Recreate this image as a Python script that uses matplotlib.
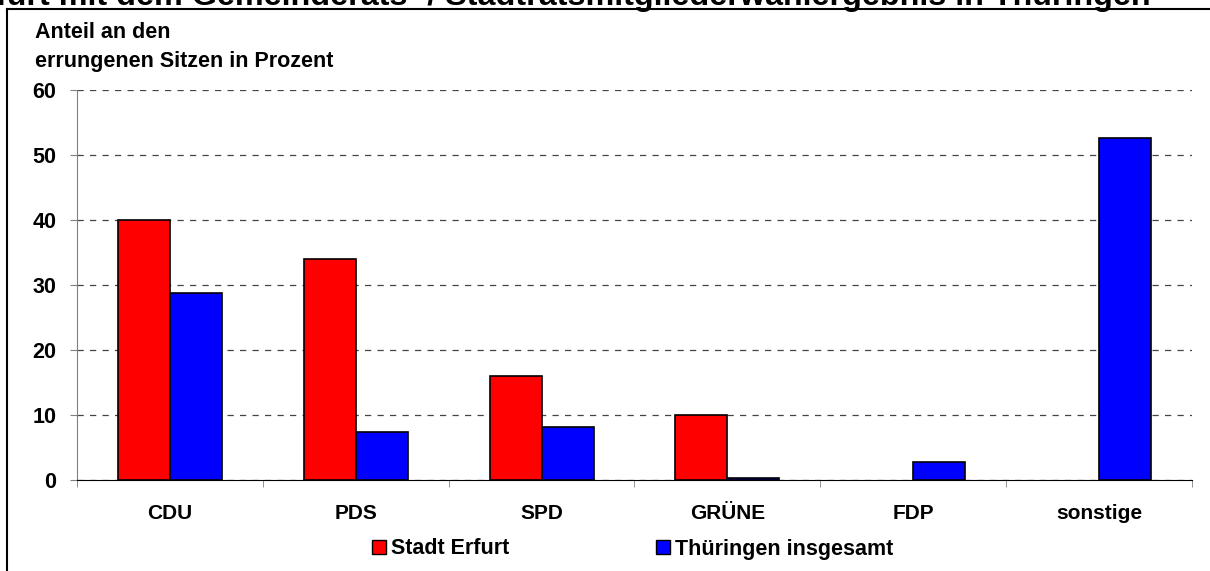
import numpy as np
import matplotlib.pyplot as plt
from matplotlib.lines import Line2D
from matplotlib.patches import Patch

# Sitzverteilung in Prozent
parteien = ["CDU", "PDS", "SPD", "GRÜNE", "FDP", "sonstige"]
erfurt = [40.0, 34.0, 16.0, 10.0, 0.0, 0.0]
thueringen = [28.7, 7.4, 8.2, 0.3, 2.8, 52.6]
serien = ["Stadt Erfurt", "Thüringen insgesamt"]
yticks = [0, 10, 20, 30, 40, 50, 60]

plt.rcParams['font.family'] = ['Liberation Sans', 'DejaVu Sans']
plt.rcParams['font.weight'] = 'bold'

W, H = 1210, 571
fig = plt.figure(figsize=(W / 100, H / 100), dpi=100)

# Titel ist im Original oben abgeschnitten
fig.text(-0.003, 1 - 5 / H, "furt mit dem Gemeinderats- / Stadtratsmitgliederwahlergebnis in Thüringen",
         fontsize=23.2, fontweight='bold', va='baseline', ha='left')
fig.add_artist(Line2D([7 / W, 1.0], [1 - 9 / H, 1 - 9 / H], color='black', lw=1.5))
fig.add_artist(Line2D([7 / W, 7 / W], [1 - 9 / H, 0.0], color='black', lw=1.5))

ax = fig.add_axes([77 / W, 1 - 480 / H, (1192 - 77) / W, (480 - 90) / H])
x = np.arange(len(parteien))
bw = 0.28
ax.bar(x - bw / 2, erfurt, bw, color='#ff0000', edgecolor='black',
       linewidth=[1.2 if v > 0 else 0 for v in erfurt], zorder=3)
ax.bar(x + bw / 2, thueringen, bw, color='#0000ff', edgecolor='black',
       linewidth=[1.2 if v > 0 else 0 for v in thueringen], zorder=3)

ax.set_xlim(-0.5, len(parteien) - 0.5)
ax.set_ylim(0, 60)
ax.set_yticks(yticks)
ax.set_xticks(x)
ax.set_xticklabels(parteien, fontsize=15, fontweight='bold')
ax.tick_params(axis='x', length=0, pad=17)
ax.set_xticks(np.arange(len(parteien) + 1) - 0.5, minor=True)
ax.tick_params(axis='x', which='minor', length=5, color='#808080', direction='out')
ax.tick_params(axis='y', labelsize=15.5, length=5, color='#808080', pad=10)
for lab in ax.get_yticklabels():
    lab.set_fontweight('bold')
ax.grid(axis='y', linestyle=(0, (5, 5)), color='#444444', linewidth=0.9, zorder=0)
ax.spines['top'].set_visible(False)
ax.spines['right'].set_visible(False)
ax.spines['left'].set_color('#808080')
ax.spines['bottom'].set_color('black')

fig.text(35 / W, 1 - 32 / H, "Anteil an den", fontsize=15.5, fontweight='bold', va='center')
fig.text(35 / W, 1 - 61 / H, "errungenen Sitzen in Prozent", fontsize=15.5, fontweight='bold', va='center')

handles = [Patch(facecolor='#ff0000', edgecolor='black'), Patch(facecolor='#0000ff', edgecolor='black')]
fig.legend(handles, serien, ncol=2, loc='center left', bbox_to_anchor=(372 / W, 1 - 549 / H),
           frameon=False, fontsize=15.5, handlelength=0.65, handleheight=0.65,
           handletextpad=0.23, columnspacing=6.8, borderpad=0, borderaxespad=0)

plt.savefig("out.png", dpi=100)
